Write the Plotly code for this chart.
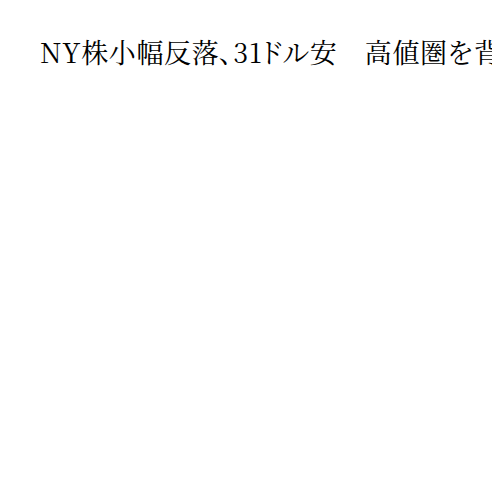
import plotly.graph_objects as go

title_text = "NY株小幅反落、31ドル安　高値圏を背景に利益確定売り"
categories = []
values = []

fig = go.Figure(go.Scatter(x=categories, y=values, mode="lines"))
fig.update_layout(
    width=500, height=500,
    title=dict(text=title_text, x=32/500, xanchor="left", xref="container",
               y=1 - 46/500, yanchor="middle", yref="container",
               font=dict(family="'Noto Serif CJK JP', 'IPAMincho', 'IPAexMincho', 'Liberation Serif', serif",
                         size=27, color="#000000")),
    paper_bgcolor="white", plot_bgcolor="white",
    xaxis=dict(visible=False), yaxis=dict(visible=False),
    showlegend=False,
    margin=dict(l=40, r=40, t=100, b=40),
)
post = """
var s = document.createElement('style');
s.textContent = '.gtitle { font-feature-settings: "palt" 1; letter-spacing: 0.6px; }';
document.head.appendChild(s);
"""
fig.write_html("out.html", post_script=post)
